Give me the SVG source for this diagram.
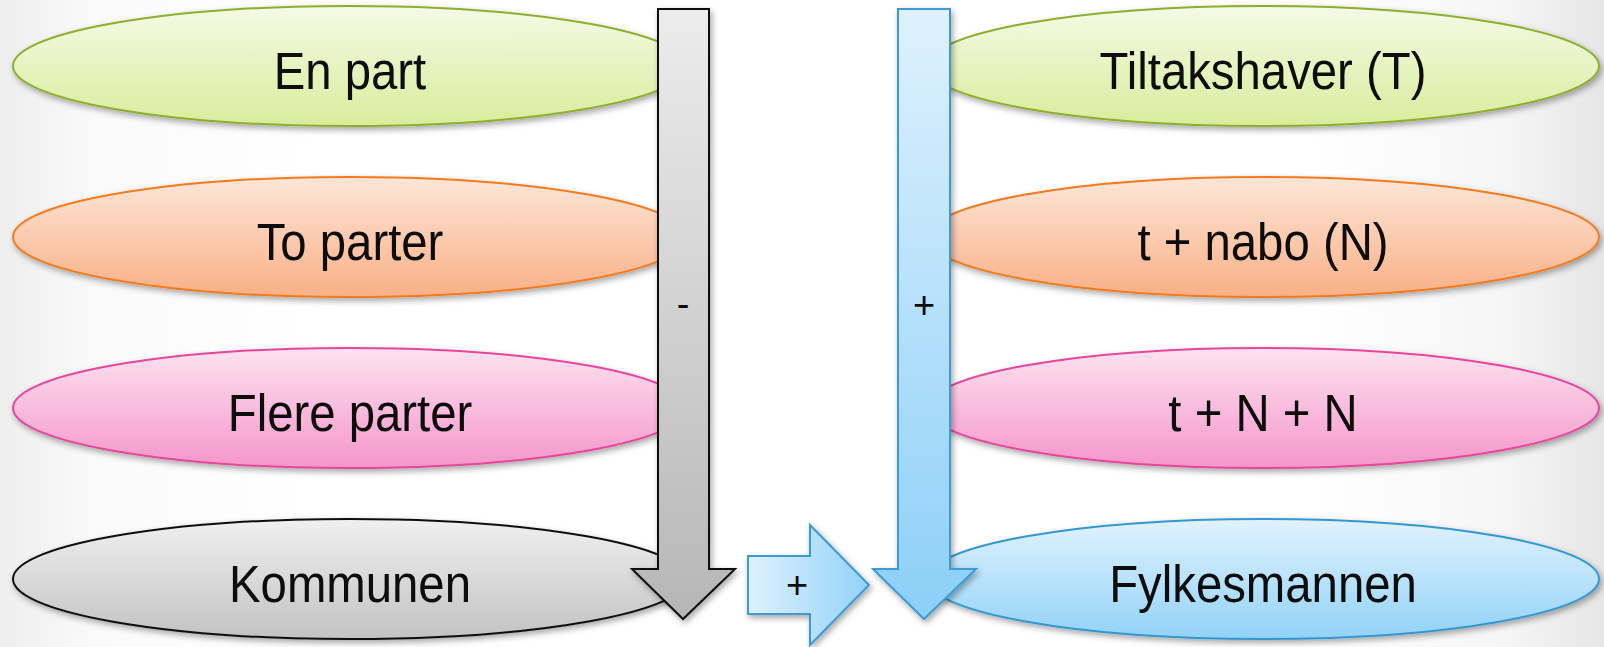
<svg xmlns="http://www.w3.org/2000/svg" width="1604" height="647" viewBox="0 0 1604 647">
  <defs>
    <linearGradient id="bg" x1="0" y1="0" x2="1" y2="0">
      <stop offset="0" stop-color="#eeeeee"/>
      <stop offset="0.06" stop-color="#fafafa"/>
      <stop offset="0.2" stop-color="#ffffff"/>
      <stop offset="0.82" stop-color="#ffffff"/>
      <stop offset="0.94" stop-color="#f5f5f5"/>
      <stop offset="1" stop-color="#e6e6e6"/>
    </linearGradient>
    <linearGradient id="gGreen" x1="0" y1="0" x2="0" y2="1">
      <stop offset="0" stop-color="#f4fae6"/>
      <stop offset="1" stop-color="#d8ed9c"/>
    </linearGradient>
    <linearGradient id="gOrange" x1="0" y1="0" x2="0" y2="1">
      <stop offset="0" stop-color="#fde6d8"/>
      <stop offset="1" stop-color="#f9b086"/>
    </linearGradient>
    <linearGradient id="gPink" x1="0" y1="0" x2="0" y2="1">
      <stop offset="0" stop-color="#fde2f0"/>
      <stop offset="1" stop-color="#f596ca"/>
    </linearGradient>
    <linearGradient id="gGray" x1="0" y1="0" x2="0" y2="1">
      <stop offset="0" stop-color="#f0f0f0"/>
      <stop offset="1" stop-color="#c2c2c2"/>
    </linearGradient>
    <linearGradient id="gBlue" x1="0" y1="0" x2="0" y2="1">
      <stop offset="0" stop-color="#e1f2fd"/>
      <stop offset="1" stop-color="#92d2f8"/>
    </linearGradient>
    <linearGradient id="aGray" gradientUnits="userSpaceOnUse" x1="0" y1="9" x2="0" y2="619">
      <stop offset="0" stop-color="#ececec"/>
      <stop offset="1" stop-color="#b6b6b6"/>
    </linearGradient>
    <linearGradient id="aBlue" gradientUnits="userSpaceOnUse" x1="0" y1="9" x2="0" y2="619">
      <stop offset="0" stop-color="#def1fd"/>
      <stop offset="1" stop-color="#8ccff7"/>
    </linearGradient>
    <linearGradient id="aRight" x1="0" y1="0" x2="1" y2="0">
      <stop offset="0" stop-color="#def1fd"/>
      <stop offset="1" stop-color="#93d2f8"/>
    </linearGradient>
    <filter id="shadow" x="-10%" y="-20%" width="120%" height="150%">
      <feDropShadow dx="2" dy="3" stdDeviation="3" flood-color="#000" flood-opacity="0.35"/>
    </filter>
  </defs>
  <style>
    .node ellipse { stroke-width: 2; filter: url(#shadow); }
    .green { fill: url(#gGreen); stroke: #8fae2f; }
    .orange { fill: url(#gOrange); stroke: #f27b1f; }
    .pink { fill: url(#gPink); stroke: #e5479b; }
    .gray { fill: url(#gGray); stroke: #111111; }
    .blue { fill: url(#gBlue); stroke: #3597d0; }
    .label { font-family: "Liberation Sans", Arial, sans-serif; font-size: 52px; fill: #0d0d0d; text-anchor: middle; }
    .sign { font-family: "Liberation Sans", Arial, sans-serif; font-size: 38px; fill: #0d0d0d; text-anchor: middle; }
    .arrow { stroke-width: 2; stroke-linejoin: miter; filter: url(#shadow); }
  </style>
  <rect x="0" y="0" width="1604" height="647" fill="url(#bg)"/>

  <g id="node-en-part" class="node">
    <ellipse class="green" cx="350" cy="66" rx="337" ry="60"/>
    <text class="label" transform="matrix(0.91 0 0 1 350 89)">En part</text>
  </g>
  <g id="node-to-parter" class="node">
    <ellipse class="orange" cx="350" cy="237" rx="337" ry="60"/>
    <text class="label" transform="matrix(0.91 0 0 1 350 260)">To parter</text>
  </g>
  <g id="node-flere-parter" class="node">
    <ellipse class="pink" cx="350" cy="408" rx="337" ry="60"/>
    <text class="label" transform="matrix(0.91 0 0 1 350 431)">Flere parter</text>
  </g>
  <g id="node-kommunen" class="node">
    <ellipse class="gray" cx="350" cy="579" rx="337" ry="60"/>
    <text class="label" transform="matrix(0.91 0 0 1 350 602)">Kommunen</text>
  </g>

  <g id="node-tiltakshaver" class="node">
    <ellipse class="green" cx="1263" cy="66" rx="336" ry="60"/>
    <text class="label" transform="matrix(0.91 0 0 1 1263 89)">Tiltakshaver (T)</text>
  </g>
  <g id="node-t-nabo" class="node">
    <ellipse class="orange" cx="1263" cy="237" rx="336" ry="60"/>
    <text class="label" transform="matrix(0.91 0 0 1 1263 260)">t + nabo (N)</text>
  </g>
  <g id="node-t-n-n" class="node">
    <ellipse class="pink" cx="1263" cy="408" rx="336" ry="60"/>
    <text class="label" transform="matrix(0.91 0 0 1 1263 431)">t + N + N</text>
  </g>
  <g id="node-fylkesmannen" class="node">
    <ellipse class="blue" cx="1263" cy="579" rx="336" ry="60"/>
    <text class="label" transform="matrix(0.91 0 0 1 1263 602)">Fylkesmannen</text>
  </g>

  <g id="connectors">
    <g id="arrow-minus">
      <polygon class="arrow" fill="url(#aGray)" stroke="#111111" points="658,9 709,9 709,569 735,569 683,619 632,569 658,569"/>
      <text class="sign" x="683" y="317">-</text>
    </g>
    <g id="arrow-plus-right">
      <polygon class="arrow" fill="url(#aRight)" stroke="#3a9bd2" points="748,556 810,556 810,525 869,585 810,645 810,614 748,614"/>
      <text class="sign" x="797" y="598">+</text>
    </g>
    <g id="arrow-plus">
      <polygon class="arrow" fill="url(#aBlue)" stroke="#3a9bd2" points="898,9 950,9 950,569 976,569 924,619 873,569 898,569"/>
      <text class="sign" x="924" y="318">+</text>
    </g>
  </g>
</svg>
